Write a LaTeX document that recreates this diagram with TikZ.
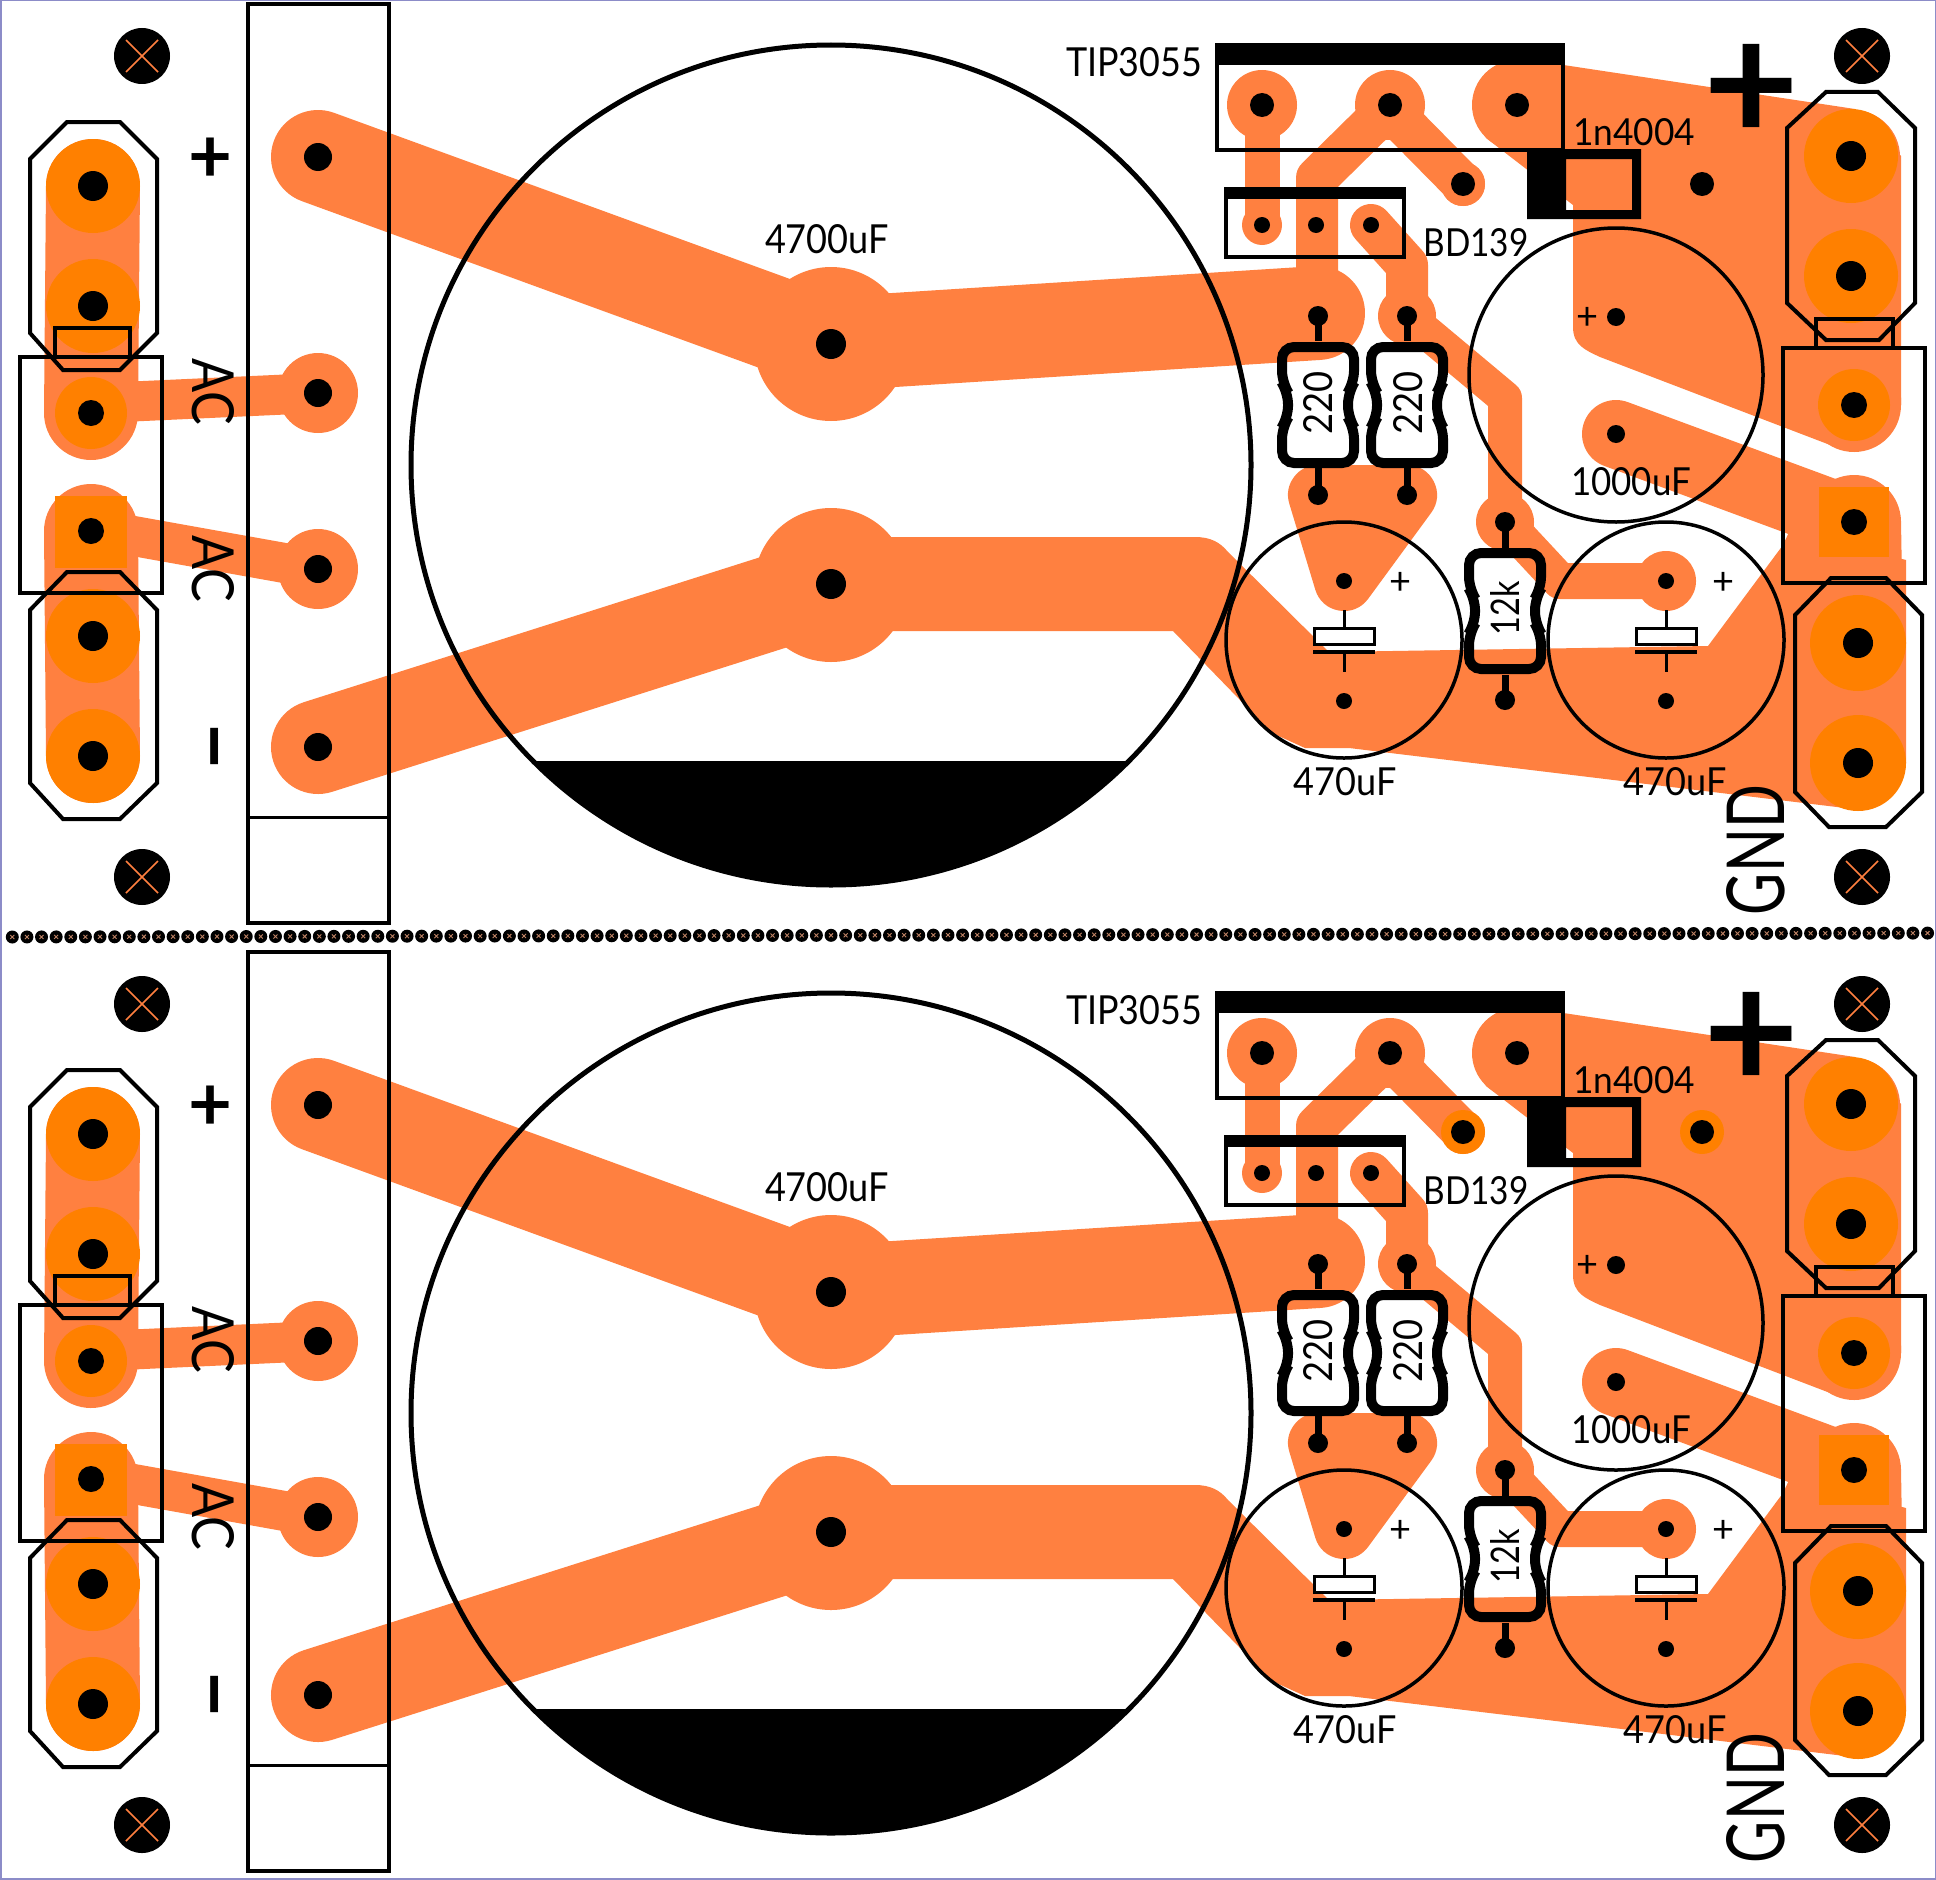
\documentclass[tikz,border=0pt]{standalone}
\usepackage{graphicx}
\usepackage{fontspec}
\setmainfont{Lato}
\usetikzlibrary{calc}
\definecolor{trackc}{RGB}{255,128,64}
\definecolor{padc}{RGB}{255,128,0}
\definecolor{edgec}{RGB}{140,140,200}
\definecolor{dotx}{RGB}{190,130,100}
\newdimen\pcpx \pcpx=0.02cm
\tikzset{
  trk/.style={draw=trackc,line width=#1*0.02cm,line cap=round,line join=round},
  blk/.style={draw=black,line width=#1*0.02cm,line join=miter},
  lbl/.style={inner sep=0pt,outer sep=0pt,text=black},
  rbody/.style={draw=black,line width=10*0.02cm,rounded corners=12*0.02cm},
  xmark/.style={draw=trackc,line width=1.6*0.02cm}
}
\newcommand\hl[3]{\fill[black] (#1,#2) circle[radius=#3];}
\newcommand\dsc[4]{\fill[#1] (#2,#3) circle[radius=#4];}
\newcommand\tx[7]{\node[lbl,rotate=#6] (#1) at (#2,#3) {\resizebox{#4\pcpx}{#5\pcpx}{#7}};}
\newcommand\res[2]{\begin{scope}[shift={(#1,#2)}]
  \draw[rbody] (-36,-58)--(36,-58)--(36,-22)--(30,-13)--(30,13)--(36,22)--(36,58)--(-36,58)--(-36,22)--(-30,13)--(-30,-13)--(-36,-22)--cycle;
\end{scope}}
\newcommand\screw[2]{\fill[black] (#1,#2) circle[radius=28];
  \draw[xmark] ($(#1,#2)+(-16,-16)$)--($(#1,#2)+(16,16)$) ($(#1,#2)+(16,-16)$)--($(#1,#2)+(-16,16)$);}
\newcommand\capsym[1]{\draw[blk=3] (#1,610)--(#1,628);
  \filldraw[fill=white,draw=black,line width=3*0.02cm] ($(#1,628)+(-30,0)$) rectangle ($(#1,644)+(30,0)$);
  \draw[blk=4] ($(#1,652)+(-31,0)$)--($(#1,652)+(31,0)$);
  \draw[blk=3] (#1,652)--(#1,672);}
\newcommand\board[2]{%
 \draw[trk=94] (93,186)--(91,413);
 \draw[trk=94] (91,531)--(93,756);
 \draw[trk=40] (100,403)--(318,393);
 \draw[trk=40] (100,530)--(318,569);
 \dsc{trackc}{318}{393}{40}
 \dsc{trackc}{318}{569}{40}
 \draw[trk=94] (318,157)--(831,344)--(1318,313);
 \draw[trk=94] (318,747)--(831,584);
 \dsc{trackc}{831}{344}{77}
 \dsc{trackc}{831}{585}{77}
 \fill[trackc] (831,537)--(1195,537) .. controls (1210,537) and (1220,542) .. (1228,552)--(1329,652)--(1708,646)--(1783,545)--(1790,530)--(1906,560)--(1906,763)--(1858,811)--(1845,808)--(1349,748)--(1305,748)--(1272,733)--(1173,631)--(831,631)--cycle;
 \draw[trk=94] (1854,522)--(1858,763);
 \draw[trk=68] (1616,434)--(1854,522);
 \draw[trk=94] (1853,157)--(1854,405);
 \fill[trackc] (1517,58)--(1855,109)--(1901,156)--(1901,405)--(1838,448)--(1600,357) .. controls (1585,350) and (1573,345) .. (1573,327)--(1573,205)--(1486,138)--(1472,105)--cycle;
 \dsc{trackc}{1517}{105}{45}
 \dsc{trackc}{1262}{105}{35}
 \dsc{trackc}{1390}{105}{35}
 \draw[trk=35] (1262,105)--(1262,225);
 \dsc{trackc}{1262}{225}{20}
 \draw[trk=42] (1384,112)--(1317,178)--(1317,300);
 \draw[trk=42] (1398,118)--(1463,184);
 \dsc{trackc}{1463}{184}{22}
 \draw[trk=42] (1371,225)--(1407,265)--(1407,316);
 \dsc{trackc}{1407}{316}{29}
 \draw[trk=34,line cap=butt] (1407,316)--(1505,398)--(1505,522);
 \dsc{trackc}{1505}{522}{29}
 \draw[trk=36] (1505,522)--(1560,581)--(1666,581);
 \dsc{trackc}{1666}{581}{30}
 \fill[trackc,draw=trackc,line width=60*0.02cm,line join=round] (1318,495)--(1407,495)--(1344,581)--cycle;
 \dsc{padc}{93}{186}{47}
 \dsc{padc}{93}{306}{47}
 \dsc{padc}{91}{413}{36}
 \fill[padc] (55,496) rectangle (127,568);
 \dsc{padc}{93}{636}{47}
 \dsc{padc}{93}{756}{47}
 \dsc{padc}{1851}{156}{47}
 \dsc{padc}{1851}{276}{47}
 \dsc{padc}{1854}{405}{36}
 \fill[padc] (1819,487) rectangle (1889,557);
 \dsc{padc}{1858}{643}{48}
 \dsc{padc}{1858}{763}{48}
 \dsc{#1}{1463}{184}{22}
 \dsc{#1}{1702}{184}{22}
 \hl{93}{186}{15}\hl{93}{306}{15}\hl{91}{413}{13}\hl{91}{531}{13}\hl{93}{636}{15}\hl{93}{756}{15}
 \hl{318}{157}{14}\hl{318}{393}{14}\hl{318}{569}{14}\hl{318}{747}{14}
 \hl{831}{344}{15}\hl{831}{584}{15}
 \hl{1262}{105}{12}\hl{1390}{105}{12}\hl{1517}{105}{12}
 \hl{1463}{184}{12}\hl{1702}{184}{12}
 \hl{1262}{225}{8}\hl{1316}{225}{8}\hl{1371}{225}{8}
 \hl{1616}{317}{9}\hl{1616}{434}{9}
 \hl{1344}{581}{8}\hl{1344}{701}{8}\hl{1666}{581}{8}\hl{1666}{701}{8}
 \hl{1851}{156}{15}\hl{1851}{276}{15}\hl{1854}{405}{13}\hl{1854}{522}{13}\hl{1858}{643}{15}\hl{1858}{763}{15}
 \screw{142}{56}\screw{142}{877}\screw{1862}{56}\screw{1862}{877}
 \draw[blk=4] (67,122)--(120,122)--(157,159)--(157,333)--(120,370)--(63,370)--(30,333)--(30,159)--cycle;
 \draw[blk=4] (67,572)--(120,572)--(157,610)--(157,783)--(120,819)--(63,819)--(30,783)--(30,610)--cycle;
 \draw[blk=4] (20,357) rectangle (162,593);
 \draw[blk=4] (55,357)--(55,328)--(130,328)--(130,357);
 \draw[blk=4] (248,4) rectangle (389,923);
 \draw[blk=3] (248,817)--(389,817);
 \draw[blk=4] (1826,92)--(1878,92)--(1915,128)--(1915,303)--(1879,340)--(1826,340)--(1787,303)--(1787,128)--cycle;
 \draw[blk=4] (1831,578)--(1886,578)--(1922,615)--(1922,792)--(1886,827)--(1829,827)--(1795,792)--(1795,615)--cycle;
 \draw[blk=4] (1783,348) rectangle (1925,583);
 \draw[blk=4] (1816,348)--(1816,319)--(1893,319)--(1893,348);
 \draw[blk=5] (831,465) circle[radius=420];
 \begin{scope}
   \clip (300,761) rectangle (1300,900);
   \fill[black] (831,465) circle[radius=420];
 \end{scope}
 \draw[blk=3.5] (1616,375) circle[radius=147];
 \draw[blk=3.5] (1344,640) circle[radius=118];
 \draw[blk=3.5] (1666,640) circle[radius=118];
 \capsym{1344}\capsym{1666}
 \draw[blk=4] (1217,45) rectangle (1563,150);
 \fill[black] (1215,43) rectangle (1565,65);
 \draw[blk=4] (1226,189) rectangle (1404,257);
 \fill[black] (1224,187) rectangle (1406,199);
 \fill[black,even odd rule] (1527,149) rectangle (1641,219) (1566,159) rectangle (1632,210);
 \draw[blk=7] (1318,316)--(1318,341) (1318,468)--(1318,495);
 \hl{1318}{316}{10}\hl{1318}{495}{10}
 \res{1318}{405}
 \draw[blk=7] (1407,316)--(1407,341) (1407,468)--(1407,495);
 \hl{1407}{316}{10}\hl{1407}{495}{10}
 \res{1407}{405}
 \draw[blk=7] (1505,522)--(1505,548) (1505,675)--(1505,700);
 \hl{1505}{522}{10}\hl{1505}{700}{10}
 \res{1505}{611}
 \tx{tip#2}{1134}{62}{136}{29}{0}{TIP3055}
 \tx{big#2}{827}{239}{124}{29}{0}{4700uF}
 \tx{dio#2}{1634}{132}{122}{27}{0}{1n4004}
 \tx{bd#2}{1476}{243}{105}{28}{0}{BD139}
 \tx{cb#2}{1631}{482}{120}{28}{0}{1000uF}
 \tx{cl#2}{1345}{782}{103}{28}{0}{470uF}
 \tx{cr#2}{1675}{782}{103}{28}{0}{470uF}
 \tx{ra#2}{1318}{403}{63}{29}{90}{220}
 \tx{rb#2}{1408}{403}{63}{29}{90}{220}
 \tx{rc#2}{1505}{608}{54}{29}{90}{12k}
 \tx{ac#2}{213}{392}{67}{42}{-90}{AC}
 \tx{ad#2}{213}{569}{67}{42}{-90}{AC}
 \tx{gnd#2}{1756}{850}{130}{58}{90}{GND}
 \node[lbl] (pl#2) at (210.5,160) {\resizebox{44\pcpx}{!}{\bfseries +}};
 \node[lbl] (pb#2) at (1751,93) {\resizebox{96\pcpx}{!}{\bfseries +}};
 \node[lbl,rotate=90] (mn#2) at (226,746) {\resizebox{52\pcpx}{!}{\bfseries –}};
 \node[lbl] (pa#2) at (1400,583) {\resizebox{22\pcpx}{!}{+}};
 \node[lbl] (pc#2) at (1723,583) {\resizebox{22\pcpx}{!}{+}};
 \node[lbl] (pd#2) at (1587,318) {\resizebox{22\pcpx}{!}{+}};
}
\begin{document}
\begin{tikzpicture}[x=0.02cm,y=-0.02cm]
 \useasboundingbox (0,0) rectangle (1936,1879);
 \fill[white] (0,0) rectangle (1936,1879);
 \draw[edgec,line width=3*0.02cm] (0,0) rectangle (1936,1879);
 \board{trackc}{u}
 \begin{scope}[shift={(0,948)}]
  \board{padc}{v}
 \end{scope}
 \foreach \i in {0,...,131}{
   \pgfmathsetmacro\dx{12.3+\i*14.62}
   \pgfmathsetmacro\dy{937-\i*0.03}
   \fill[black] (\dx,\dy) circle[radius=6.5];
   \draw[dotx,line width=0.9*0.02cm] ($(\dx,\dy)+(-2,-2)$)--($(\dx,\dy)+(2,2)$) ($(\dx,\dy)+(2,-2)$)--($(\dx,\dy)+(-2,2)$);
 }
\end{tikzpicture}
\end{document}
